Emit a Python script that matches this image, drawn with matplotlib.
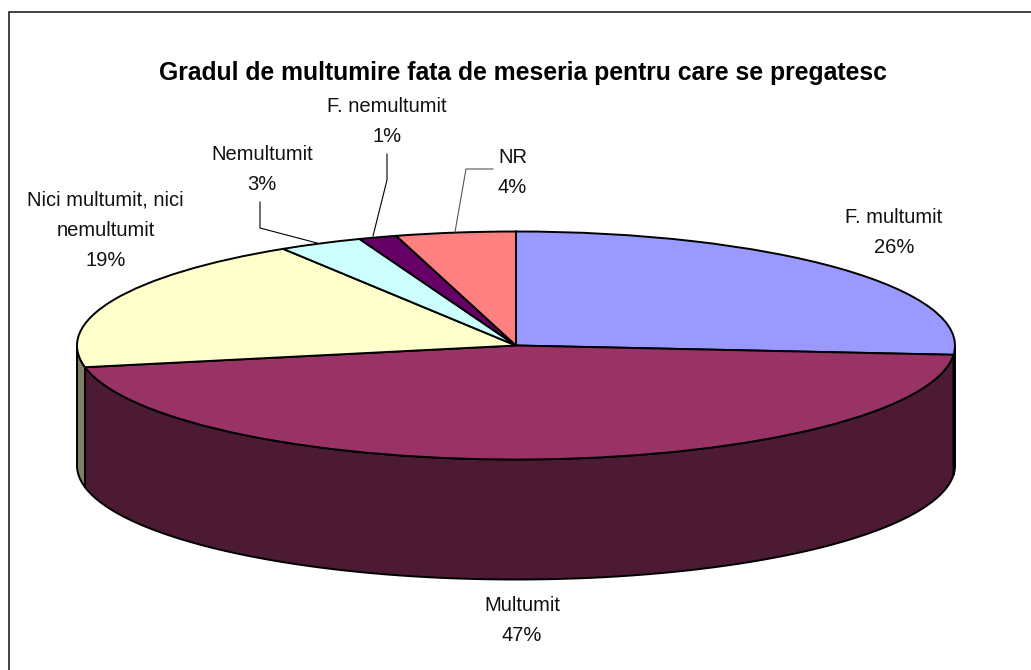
import numpy as np
import matplotlib
matplotlib.use("Agg")
import matplotlib.pyplot as plt
from matplotlib.lines import Line2D

plt.rcParams['font.family'] = ['Liberation Sans', 'DejaVu Sans']

title = 'Gradul de multumire fata de meseria pentru care se pregatesc'
categories = ['F. multumit', 'Multumit', 'Nici multumit, nici\nnemultumit', 'Nemultumit', 'F. nemultumit', 'NR']
percent_labels = ['26%', '47%', '19%', '3%', '1%', '4%']
# Slice shares as they appear in the drawn perspective
slice_shares = [26.3, 45.65, 19.15, 3.1, 1.4, 4.4]
top_colors = ['#9999FF', '#993366', '#FFFFCC', '#CCFFFF', '#660066', '#FF8080']
wall_colors = ['#4D4D80', '#4D1A33', '#808066', '#668080', '#330033', '#804040']

W, H = 1031, 670
CX, CY, RX, RY, DEPTH = 516, 345.5, 439, 114, 120

fig = plt.figure(figsize=(W / 100, H / 100), dpi=100, facecolor='white')
ax = fig.add_axes([0, 0, 1, 1])


def fx(x):
    return x / W


def fy(y):
    return 1 - y / H


def fig_line(xs, ys, color='black', lw=1.0):
    fig.add_artist(Line2D([fx(v) for v in xs], [fy(v) for v in ys], transform=fig.transFigure,
                          color=color, linewidth=lw, solid_joinstyle='miter'))


# Chart-area frame: only the top and left sides fall inside the picture
fig_line([9, 9, W + 2], [H + 2, 12, 12], color='#111111', lw=1.1)

# Side wall: the visible lower half of every slice
depth_u = DEPTH / RY
edges = np.concatenate([[0], np.cumsum(slice_shares)]) / sum(slice_shares) * 2 * np.pi
for a0, a1, col in zip(edges[:-1], edges[1:], wall_colors):
    lo, hi = max(a0, np.pi / 2), min(a1, 3 * np.pi / 2)
    if hi <= lo:
        continue
    t = np.linspace(lo, hi, 200)
    xs = np.sin(t)
    ys = np.cos(t)
    ax.fill(np.r_[xs, xs[::-1]], np.r_[ys, ys[::-1] - depth_u], facecolor=col,
            edgecolor='black', linewidth=1.4, joinstyle='round', zorder=1)

# Top face
ax.pie(slice_shares, colors=top_colors, startangle=90, counterclock=False, radius=1,
       wedgeprops=dict(edgecolor='black', linewidth=1.4, zorder=2))

ax.set_aspect('auto')
ax.set_xlim(-CX / RX, (W - CX) / RX)
ax.set_ylim(-(H - CY) / RY, CY / RY)
ax.axis('off')

# Title
fig.text(fx(523), fy(80), title, ha='center', va='baseline', fontsize=17.8,
         fontweight='bold', color='black')

# Data labels: centre x, first baseline
label_pos = [(894, 223), (522, 611), (105.5, 206), (262, 160), (387, 112), (512.5, 163)]
line_step = 30
for name, pct, (x, y) in zip(categories, percent_labels, label_pos):
    for i, line in enumerate(name.split('\n') + [pct]):
        fig.text(fx(x), fy(y + i * line_step), line, ha='center', va='baseline',
                 fontsize=14.5, color='#111111')

# Leader lines
fig_line([260, 260, 317], [202, 228, 243], lw=0.8)
fig_line([387, 387, 373], [154, 180, 236], lw=0.8)
fig_line([493, 466, 455], [169, 169, 232], color='#555555', lw=0.8)

fig.savefig('out.png', dpi=100)
